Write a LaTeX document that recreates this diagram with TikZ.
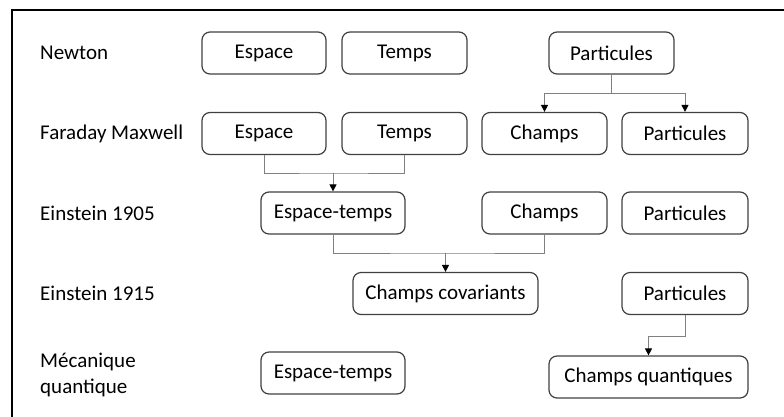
\documentclass[tikz,border=0pt]{standalone}
\usepackage{fontspec}
\setmainfont{Carlito}
\usetikzlibrary{arrows.meta}
\tikzset{
  box/.style={draw=black!75, line width=1.2pt, rounded corners=8pt, minimum height=42pt, inner sep=0pt, font=\fontsize{21}{25}\selectfont},
  lbl/.style={anchor=west, inner sep=0pt, align=left, font=\fontsize{21}{26}\selectfont},
  conn/.style={draw=black!50, line width=0.9pt},
  arr/.style={conn, -{Triangle[length=7pt,width=7pt,color=black]}}
}
\begin{document}
\begin{tikzpicture}[x=1pt,y=-1pt]
\useasboundingbox (0,0) rectangle (784,416);
\draw[line width=2.6pt] (12,417) -- (12,10) -- (785,10);
% labels
\node[lbl] (lN) at (40,53) {Newton};
\node[lbl] (lFM) at (40,133.5) {Faraday Maxwell};
\node[lbl] (lE5) at (40,213) {Einstein 1905};
\node[lbl] (lE15) at (40,293.5) {Einstein 1915};
\node[lbl] (lMQ) at (40,375) {Mécanique\\quantique};
% row 1
\node[box, minimum width=124pt] (eN) at (264,53) {Espace};
\node[box, minimum width=125pt] (tN) at (404.5,53) {Temps};
\node[box, minimum width=125pt] (pN) at (611.5,53) {Particules};
% row 2
\node[box, minimum width=124pt] (eFM) at (264,133.5) {Espace};
\node[box, minimum width=125pt] (tFM) at (404.5,133.5) {Temps};
\node[box, minimum width=125pt] (cFM) at (544.5,133.5) {Champs};
\node[box, minimum width=126pt] (pFM) at (685,133.5) {Particules};
% row 3
\node[box, minimum width=144pt] (etE) at (333,213) {Espace-temps};
\node[box, minimum width=125pt] (cE) at (544.5,213) {Champs};
\node[box, minimum width=126pt] (pE) at (685,213) {Particules};
% row 4
\node[box, minimum width=185pt] (ccov) at (445.5,293.5) {Champs covariants};
\node[box, minimum width=126pt] (p15) at (685,293.5) {Particules};
% row 5
\node[box, minimum width=144pt] (etQ) at (333,373) {Espace-temps};
\node[box, minimum width=199pt] (cq) at (648.5,377) {Champs quantiques};
% connectors
\coordinate (j1) at (611.5,93);
\draw[conn] (pN.south) -- (j1);
\draw[arr] (j1) -| (cFM.north);
\draw[arr] (j1) -| (pFM.north);
\coordinate (j2) at (333,173);
\draw[conn] (eFM.south) |- (j2) -| (tFM.south);
\draw[arr] (j2) -- (etE.north);
\coordinate (j3) at (445.5,253);
\draw[conn] (etE.south) |- (j3) -| (cE.south);
\draw[arr] (j3) -- (ccov.north);
\draw[arr] (p15.south) -- ++(0,21) -| (cq.north);
\end{tikzpicture}
\end{document}
